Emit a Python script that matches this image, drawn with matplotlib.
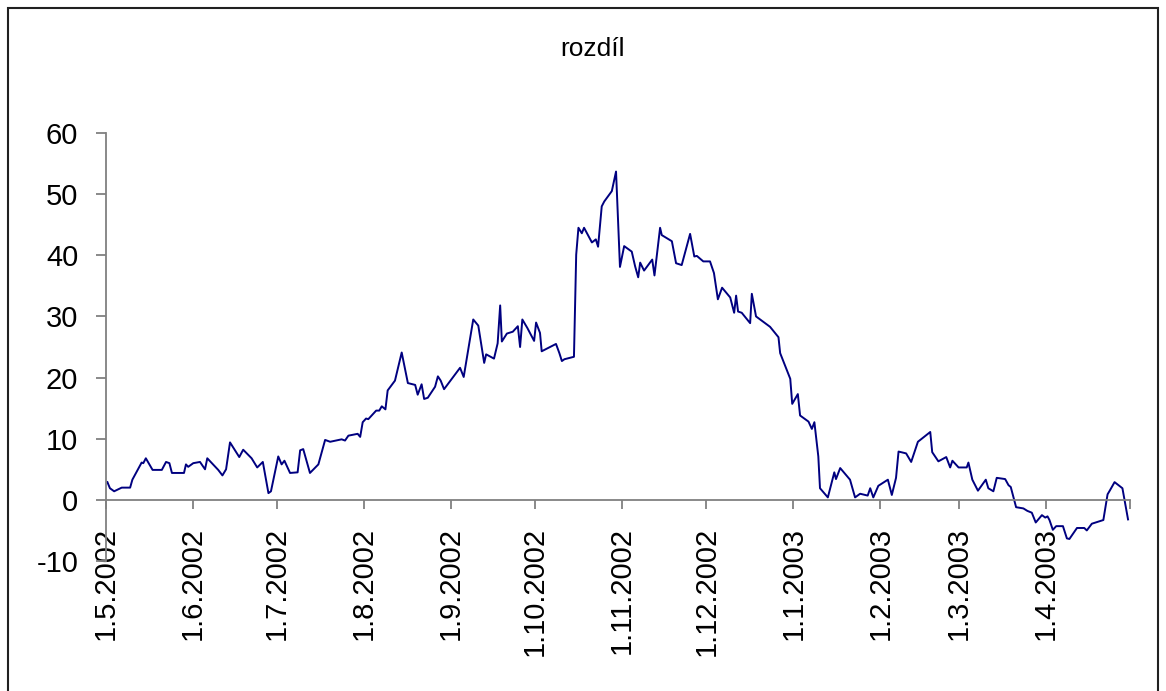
import numpy as np
import pandas as pd
import matplotlib
matplotlib.use('Agg')
import matplotlib.pyplot as plt
from matplotlib.patches import Rectangle

# Data: days after 1.5.2002 and the value of the difference
days = [0.5, 1.4, 2.9, 5.6, 8.6, 9.4, 12.7, 13.3, 14.2, 16.6, 19.9, 21.4, 22.6, 23.5,
        27.8, 28.5, 29.3, 31.1, 33.5, 35.3, 36.1, 40.0, 41.5, 42.8, 44.2, 47.5, 48.9,
        51.9, 53.9, 55.9, 57.9, 58.8, 61.4, 62.6, 63.6, 65.6, 68.3, 69.2, 70.3, 72.7,
        75.7, 78.1, 79.9, 84.0, 85.2, 86.4, 89.7, 90.6, 91.5, 92.7, 93.5, 96.3, 97.4,
        98.3, 99.6, 100.4, 103.0, 105.4, 107.6, 110.2, 111.1, 112.5, 113.4, 114.7,
        117.3, 118.3, 119.3, 120.5, 126.2, 127.5, 130.9, 132.7, 134.8, 135.5, 138.3,
        139.6, 140.5, 141.1, 142.9, 145.0, 146.8, 147.6, 148.4, 150.2, 152.6, 153.3,
        154.7, 155.3, 160.4, 161.6, 162.5, 163.4, 166.8, 167.6, 168.4, 169.6, 170.4,
        173.2, 174.6, 175.4, 176.7, 177.6, 180.3, 181.8, 183.2, 184.7, 187.4, 188.6,
        189.7, 190.4, 191.8, 194.7, 195.5, 197.5, 198.1, 201.7, 203.2, 205.2, 208.2,
        209.7, 210.6, 212.9, 215.3, 216.7, 218.1, 219.6, 222.5, 223.9, 224.6, 225.3,
        226.6, 229.6, 230.2, 231.7, 236.7, 239.7, 240.3, 243.9, 244.6, 246.6, 247.4,
        250.4, 251.6, 252.5, 253.9, 254.5, 257.3, 259.6, 260.2, 261.7, 265.2, 267.0,
        268.8, 271.5, 272.4, 273.5, 275.3, 278.7, 280.1, 281.6, 282.5, 285.2, 287.0,
        289.4, 293.8, 294.5, 296.7, 299.5, 300.9, 301.7, 303.9, 306.8, 307.4, 308.8,
        310.8, 313.6, 314.5, 316.3, 317.5, 320.5, 321.7, 322.5, 324.4, 327.0, 328.4,
        330.0, 331.4, 333.6, 334.8, 335.6, 336.3, 337.5, 338.7, 341.1, 342.5, 343.4,
        346.1, 348.7, 349.6, 351.4, 355.5, 357.0, 357.9, 359.5, 362.3, 364.3]
values = [2.9, 1.9, 1.4, 2.0, 2.0, 3.3, 6.1, 6.0, 6.8, 4.9, 4.9, 6.2, 6.0, 4.4,
          4.4, 5.8, 5.4, 6.0, 6.2, 5.0, 6.8, 4.9, 4.0, 5.0, 9.4, 7.0, 8.2,
          6.8, 5.3, 6.2, 1.1, 1.4, 7.1, 5.8, 6.4, 4.4, 4.5, 8.1, 8.3, 4.4,
          5.8, 9.8, 9.5, 9.9, 9.7, 10.5, 10.8, 10.3, 12.7, 13.3, 13.2, 14.6, 14.6,
          15.3, 14.8, 17.9, 19.5, 24.1, 19.1, 18.8, 17.2, 18.9, 16.5, 16.7,
          18.5, 20.2, 19.5, 18.1, 21.6, 20.1, 29.5, 28.5, 22.4, 23.8, 23.1,
          25.6, 31.8, 25.9, 27.2, 27.5, 28.4, 25.0, 29.5, 28.1, 26.0, 29.0,
          27.3, 24.3, 25.5, 24.0, 22.7, 23.0, 23.4, 40.1, 44.5, 43.6, 44.5,
          42.1, 42.6, 41.4, 48.0, 48.8, 50.5, 53.7, 38.1, 41.5, 40.6, 38.2,
          36.4, 38.8, 37.5, 39.3, 36.7, 44.5, 43.3, 42.3, 38.7, 38.4, 43.5,
          39.8, 39.9, 39.0, 39.0, 37.1, 32.8, 34.7, 33.1, 30.6, 33.4, 30.8,
          30.6, 28.9, 33.7, 30.0, 28.3, 26.6, 24.0, 19.8, 15.7, 17.3, 13.8,
          12.8, 11.6, 12.7, 7.1, 1.9, 0.4, 4.5, 3.4, 5.2, 3.3, 0.4,
          1.0, 0.7, 1.9, 0.4, 2.3, 3.3, 0.8, 3.6, 7.9, 7.6, 6.2,
          9.5, 11.1, 7.8, 6.3, 7.0, 5.3, 6.4, 5.3, 5.3, 6.1, 3.3,
          1.5, 3.3, 1.9, 1.4, 3.6, 3.4, 2.4, 2.1, -1.2, -1.4, -1.8,
          -2.1, -3.7, -2.5, -2.9, -2.7, -3.3, -4.9, -4.3, -4.3, -6.3, -6.4,
          -4.6, -4.6, -5.0, -3.9, -3.3, 0.9, 1.6, 2.9, 1.9, -3.2]

start = pd.Timestamp('2002-05-01')
end = pd.Timestamp('2003-05-01')
dates = start + pd.to_timedelta(days, unit='D')
month_ticks = pd.date_range('2002-05-01', '2003-04-01', freq='MS')
tick_labels = [f'{d.day}.{d.month}.{d.year}' for d in month_ticks]
y_ticks = [-10, 0, 10, 20, 30, 40, 50, 60]

plt.rcParams['font.family'] = ['Liberation Sans', 'DejaVu Sans']

fig = plt.figure(figsize=(11.66, 6.91), dpi=100)
ax = fig.add_axes([106 / 1166, 1 - 561 / 691, 1024 / 1166, 428 / 691])

ax.plot(dates, values, color='#000080', linewidth=1.4)

ax.set_xlim(start, end)
ax.set_ylim(-10, 60)

# x axis crosses at zero, like in Excel
ax.spines['bottom'].set_position(('data', 0))
ax.spines['top'].set_visible(False)
ax.spines['right'].set_visible(False)
for s in ['left', 'bottom']:
    ax.spines[s].set_color('#808080')
    ax.spines[s].set_linewidth(1.3)

ax.set_xticks(list(month_ticks) + [end])
ax.set_xticklabels(tick_labels + [''], rotation=90, fontsize=21)
ax.set_yticks(y_ticks)
ax.set_yticklabels([str(v) for v in y_ticks], fontsize=21)
ax.tick_params(axis='x', length=6.5, width=1.3, color='#808080', pad=13)
ax.tick_params(axis='y', length=7, width=1.3, color='#808080', pad=13)

fig.text(592 / 1166, 1 - 49 / 691, 'rozdíl', ha='center', va='center', fontsize=19)

# outer chart border
fig.add_artist(Rectangle((8 / 1166, -0.05), 1150 / 1166, 1.05 - 8 / 691,
                         transform=fig.transFigure, fill=False,
                         edgecolor='#202020', linewidth=1.5))

fig.savefig('out.png', dpi=100)
